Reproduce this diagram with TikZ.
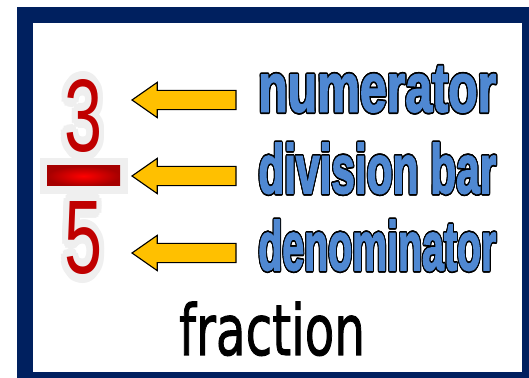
\documentclass[tikz,border=0pt]{standalone}
\usepackage{fontspec}
\setmainfont{Liberation Sans}
\newfontfamily\labelfont{Liberation Sans Bold}[FakeBold=2.5]
\newfontfamily\captionfont{DejaVu Sans}[FakeBold=1.5]
\usepackage{graphicx}
\usepackage{contour}
\usetikzlibrary{calc}
\definecolor{framenavy}{HTML}{00205F}
\definecolor{labelblue}{HTML}{4F88D2}
\definecolor{arrowyellow}{HTML}{FFC000}
\definecolor{digitred}{HTML}{C00000}
\definecolor{halogray}{HTML}{EFEFEF}
\contourlength{1.2pt}
\newcommand{\partlabel}[1]{\resizebox{5.95cm}{\height}{\textcolor{labelblue}{\contour{black}{#1}}}}
\newcommand{\fracdigit}[1]{{\contourlength{6pt}\resizebox{0.95cm}{1.8cm}{\textcolor{digitred}{\contour{halogray}{#1}}}}}
\tikzset{
  fatarrow/.style={draw=black, fill=arrowyellow, line width=0.8pt, line join=miter,
    to path={($(\tikztostart)+(0,0.24)$) -- ($(\tikztotarget)+(0.63,0.24)$)
      -- ($(\tikztotarget)+(0.63,0.44)$) -- (\tikztotarget)
      -- ($(\tikztotarget)+(0.63,-0.44)$) -- ($(\tikztotarget)+(0.63,-0.24)$)
      -- ($(\tikztostart)+(0,-0.24)$) -- cycle}},
  bluelabel/.style={anchor=base west, inner sep=0pt, font=\labelfont\fontsize{49}{49}\selectfont},
  reddigit/.style={anchor=base, inner sep=0pt, font=\fontsize{74}{74}\selectfont}
}
\begin{document}
\begin{tikzpicture}
    \useasboundingbox (0,0) rectangle (13.225,9.45);
    % frame
    \fill[framenavy] (0.425,0) rectangle (13.225,9.275);
    \fill[white] (0.825,0.15) rectangle (13.05,8.875);
    % fraction 3/5
    \node[reddigit] (three) at (2.075,5.65) {\fracdigit{3}};
    \node[reddigit] (five) at (2.075,2.6) {\fracdigit{5}};
    \fill[halogray] (1.0,4.6) rectangle (3.2,5.5);
    \node[minimum width=1.825cm, minimum height=0.5cm, inner sep=0pt,
          inner color=red, outer color=red!65!black] (divbar) at (2.0875,5.05) {};
    % labels
    \node[bluelabel] (numlab) at (6.45,6.6625) {\partlabel{numerator}};
    \node[bluelabel] (barlab) at (6.45,4.625) {\partlabel{division bar}};
    \node[bluelabel] (denlab) at (6.45,2.7) {\partlabel{denominator}};
    % arrows
    \coordinate (numtail) at (5.9,6.95);
    \coordinate (numtip) at (3.3,6.95);
    \coordinate (bartail) at (5.9,5.05);
    \coordinate (bartip) at (3.3,5.05);
    \coordinate (dentail) at (5.9,3.125);
    \coordinate (dentip) at (3.3,3.125);
    \draw[fatarrow] (numtail) to (numtip);
    \draw[fatarrow] (bartail) to (bartip);
    \draw[fatarrow] (dentail) to (dentip);
    % caption
    \node[anchor=base, inner sep=0pt, font=\captionfont\fontsize{50}{50}\selectfont] (caption)
      at (6.8,0.575) {\resizebox{4.65cm}{\height}{fraction}};
\end{tikzpicture}
\end{document}
